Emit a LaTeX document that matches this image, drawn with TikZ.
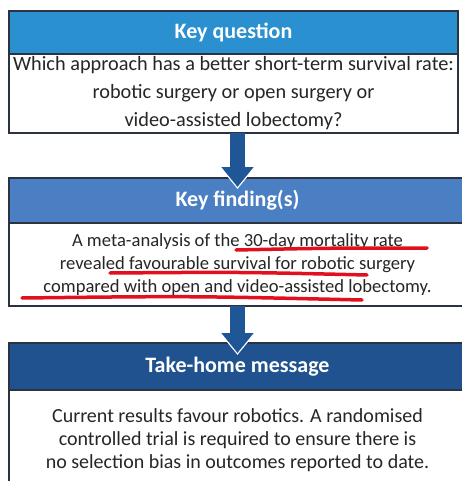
\documentclass[tikz,border=0pt]{standalone}
\usepackage{fontspec}
\setmainfont{Carlito}
\usetikzlibrary{positioning,arrows.meta}
\definecolor{qblue}{HTML}{2A90CF}
\definecolor{fblue}{HTML}{4A7FC4}
\definecolor{mblue}{HTML}{1F528E}
\definecolor{arrowblue}{HTML}{1F5696}
\definecolor{boxline}{HTML}{2B3340}
\definecolor{markred}{HTML}{E0101E}
\begin{document}
\begin{tikzpicture}[x=1pt,y=-1pt,
  headbox/.style={draw=boxline, line width=1.2pt, outer sep=0pt, inner sep=0pt, text=white, font=\bfseries\fontsize{22}{26}\selectfont},
  bodybox/.style={draw=boxline, line width=1.2pt, outer sep=0pt, inner sep=0pt, fill=white, text=black!85, align=center, font=\fontsize{18.6}{23}\selectfont},
  arrowback/.style={white, line width=15pt, -{Triangle[width=36pt,length=23pt]}},
  arrowfront/.style={arrowblue, line width=15pt, -{Triangle[width=31pt,length=20pt]}},
  redmark/.style={markred, line width=3.5pt, line cap=round}]
\useasboundingbox (0,0) rectangle (462,481);
% key question
\node [headbox, fill=qblue, minimum width=449pt, minimum height=43pt] (qhead) at (233.5,32.5) {Key question};
\node [bodybox, minimum width=449pt, minimum height=79pt, font=\fontsize{20.3}{28}\selectfont, below=0pt of qhead] (qbody) {Which approach has a better short-term survival rate:\\ robotic surgery or open surgery or\\ video-assisted lobectomy?};
% key finding
\node [headbox, fill=fblue, minimum width=457pt, minimum height=45pt] (fhead) at (237.5,200.5) {Key finding(s)};
\node [bodybox, minimum width=457pt, minimum height=83pt, below=0pt of fhead] (fbody) {A meta-analysis of the 30-day mortality rate\\ revealed favourable survival for robotic surgery\\ compared with open and video-assisted lobectomy.};
% take-home message
\node [headbox, fill=mblue, minimum width=457pt, minimum height=47pt] (mhead) at (237.5,366.5) {Take-home message};
\node [bodybox, minimum width=457pt, minimum height=100pt, font=\fontsize{20}{23}\selectfont, below=0pt of mhead] (mbody) {Current results favour robotics. A randomised\\ controlled trial is required to ensure there is\\ no selection bias in outcomes reported to date.};
% arrows
\draw [arrowback] ([xshift=4pt]qbody.south) -- ([yshift=-11pt]fhead.north);
\draw [arrowfront] ([xshift=4pt]qbody.south) -- ([yshift=-9pt]fhead.north);
\draw [arrowback] (fbody.south) -- ([yshift=-12pt]mhead.north);
\draw [arrowfront] (fbody.south) -- ([yshift=-10pt]mhead.north);
% underlines
\draw [redmark] (236,250) .. controls (330,248) .. (427,248);
\draw [redmark] (110,273) .. controls (240,272) .. (367,275);
\draw [redmark] (22,298) .. controls (190,296) .. (362,300);
\end{tikzpicture}
\end{document}
